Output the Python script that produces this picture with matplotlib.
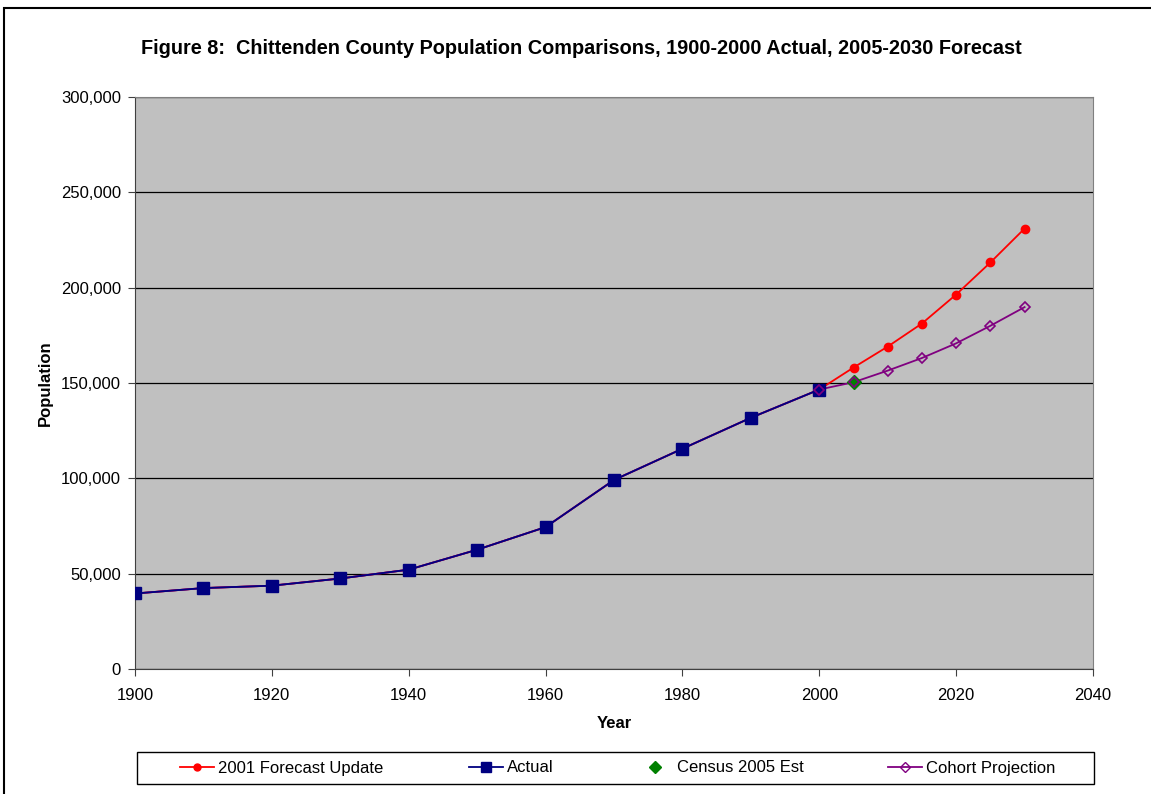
import matplotlib
matplotlib.use("Agg")
import matplotlib.pyplot as plt
from matplotlib.ticker import FuncFormatter, MultipleLocator
from matplotlib.patches import Rectangle
from matplotlib.lines import Line2D

plt.rcParams['font.family'] = ['Liberation Sans', 'DejaVu Sans']

actual_years = [1900, 1910, 1920, 1930, 1940, 1950, 1960, 1970, 1980, 1990, 2000]
actual_pop = [39600, 42447, 43708, 47471, 52098, 62570, 74425, 99131, 115534, 131761, 146571]

forecast_years = [2000, 2005, 2010, 2015, 2020, 2025, 2030]
forecast_pop = [146571, 158100, 169100, 181200, 196400, 213200, 231000]

cohort_years = [2000, 2005, 2010, 2015, 2020, 2025, 2030]
cohort_pop = [146571, 150400, 156500, 163100, 170800, 180000, 189800]

census_years = [2005]
census_pop = [150400]

fig = plt.figure(figsize=(11.51, 7.94), dpi=100)
ax = fig.add_axes([135/1151, 1-669/794, (1093-135)/1151, (669-97)/794])
ax.set_facecolor('#C0C0C0')

ax.plot(actual_years + forecast_years[1:], actual_pop + forecast_pop[1:], color='red', lw=1.3, zorder=2)
ax.plot(forecast_years[1:], forecast_pop[1:], ls='none', marker='o', ms=6, color='red', zorder=3)
ax.plot(actual_years + cohort_years[1:], actual_pop + cohort_pop[1:], color='#800080', lw=1.3, zorder=2)
ax.plot(actual_years, actual_pop, color='#000080', lw=1.3, marker='s', ms=8, zorder=4)
ax.plot(census_years, census_pop, ls='none', marker='D', ms=7, color='green', zorder=5)
ax.plot(cohort_years, cohort_pop, ls='none', marker='D', ms=5.5, mfc='none', mec='#800080', mew=1.2, zorder=6)

ax.set_xlim(1900, 2040)
ax.set_ylim(0, 300000)
ax.xaxis.set_major_locator(MultipleLocator(20))
ax.yaxis.set_major_locator(MultipleLocator(50000))
ax.yaxis.set_major_formatter(FuncFormatter(lambda v, p: f"{int(v):,}"))
ax.grid(axis='y', color='black', lw=0.9)
ax.set_axisbelow(True)
for s in ['top', 'right']:
    ax.spines[s].set_color('#808080')
for s in ['left', 'bottom']:
    ax.spines[s].set_color('#404040')
ax.tick_params(axis='both', labelsize=12, direction='out', length=5, color='#404040')
ax.tick_params(axis='x', pad=9)
ax.tick_params(axis='y', pad=5)

ax.set_xlabel('Year', fontsize=12, fontweight='bold', labelpad=9)
ax.set_ylabel('Population', fontsize=12, fontweight='bold', labelpad=5.5)
fig.text(581/1151, 1-48/794, 'Figure 8:  Chittenden County Population Comparisons, 1900-2000 Actual, 2005-2030 Forecast',
         ha='center', va='center', fontsize=14.3, fontweight='bold')

handles = [
    Line2D([], [], color='red', lw=1.3, marker='o', ms=5),
    Line2D([], [], color='#000080', lw=1.3, marker='s', ms=7),
    Line2D([], [], ls='none', color='green', marker='D', ms=6),
    Line2D([], [], color='#800080', lw=1.3, marker='D', ms=5, mfc='none', mec='#800080'),
]
labels = ['2001 Forecast Update', 'Actual', 'Census 2005 Est', 'Cohort Projection']
leg = fig.legend(handles, labels, ncol=4, loc='center', bbox_to_anchor=(618/1151, 1-768/794),
                 fontsize=12, frameon=False, handlelength=2.04,
                 columnspacing=5.1, borderpad=0.0, handletextpad=0.25, borderaxespad=0)

fig.patches.append(Rectangle((137/1151, 1-784/794), (1094-137)/1151, 32/794, transform=fig.transFigure,
                             fill=False, edgecolor='black', lw=1.0))
fig.patches.append(Rectangle((4/1151, -0.1), 1.2, 1-8/794+0.1, transform=fig.transFigure,
                             fill=False, edgecolor='black', lw=1.5))

fig.savefig('out.png', dpi=100)
